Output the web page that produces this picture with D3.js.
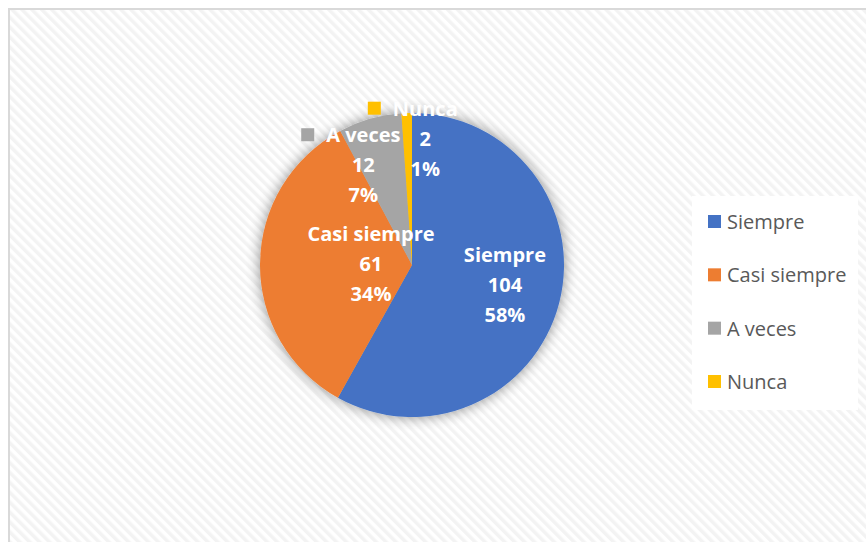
<!DOCTYPE html>
<html>
<head>
<meta charset="utf-8">
<script src="https://cdn.jsdelivr.net/npm/d3@7"></script>
<style>
  body { margin: 0; background: #fff; }
  svg { display: block; font-family: "Open Sans", Lato, sans-serif; }
</style>
</head>
<body>
<div id="chart"></div>
<script>
// data
var categories = ["Siempre", "Casi siempre", "A veces", "Nunca"];
var counts = [104, 61, 12, 2];
var percents = ["58%", "34%", "7%", "1%"];
var colors = ["#4472C4", "#ED7D31", "#A5A5A5", "#FFC000"];

var width = 866, height = 542;
var cx = 412, cy = 265, radius = 152;

// where excel put each data label (angle in degrees, distance from centre)
var labelPlace = {
    "Siempre": { angle: 102, dist: 95, key: false },
    "Casi siempre": { angle: 271, dist: 41, key: false },
    "A veces": { angle: 334, dist: 111, key: true },
    "Nunca": { angle: 6, dist: 127, key: true }
};

var svg = d3.select("#chart").append("svg")
    .attr("width", width)
    .attr("height", height);

var defs = svg.append("defs");

var stripes = defs.append("pattern")
    .attr("id", "stripes")
    .attr("patternUnits", "userSpaceOnUse")
    .attr("width", 7)
    .attr("height", 7)
    .attr("patternTransform", "rotate(-45)");
stripes.append("rect").attr("width", 7).attr("height", 7).attr("fill", "#ffffff");
stripes.append("rect").attr("width", 3.5).attr("height", 7).attr("fill", "#f3f3f3");

var shadow = defs.append("filter")
    .attr("id", "shadow")
    .attr("x", "-30%").attr("y", "-30%")
    .attr("width", "160%").attr("height", "160%");
shadow.append("feGaussianBlur").attr("in", "SourceAlpha").attr("stdDeviation", 7).attr("result", "blur");
shadow.append("feComponentTransfer").attr("in", "blur").attr("result", "soft")
    .append("feFuncA").attr("type", "linear").attr("slope", 0.45);
var merge = shadow.append("feMerge");
merge.append("feMergeNode").attr("in", "soft");
merge.append("feMergeNode").attr("in", "SourceGraphic");

// chart area frame
svg.append("rect")
    .attr("x", 9).attr("y", 9)
    .attr("width", width).attr("height", height)
    .attr("fill", "url(#stripes)")
    .attr("stroke", "#d9d9d9")
    .attr("stroke-width", 2);

var color = d3.scaleOrdinal().domain(categories).range(colors);

var pie = d3.pie().sort(null).value(function (d) { return d.count; });
var arc = d3.arc().innerRadius(0).outerRadius(radius);

var data = categories.map(function (c, i) {
    return { name: c, count: counts[i], pct: percents[i] };
});

var g = svg.append("g").attr("transform", "translate(" + cx + "," + cy + ")");

g.append("g").attr("filter", "url(#shadow)")
    .selectAll("path")
    .data(pie(data))
    .enter().append("path")
    .attr("d", arc)
    .attr("fill", function (d) { return color(d.data.name); });

// data labels
var lineH = 30;
var labels = g.selectAll("g.lbl")
    .data(pie(data))
    .enter().append("g")
    .attr("class", "lbl")
    .attr("transform", function (d) {
        var p = labelPlace[d.data.name];
        var pt = d3.pointRadial(p.angle * Math.PI / 180, p.dist);
        return "translate(" + pt[0] + "," + pt[1] + ")";
    });

labels.each(function (d) {
    var el = d3.select(this);
    var p = labelPlace[d.data.name];
    var lines = [d.data.name, d.data.count, d.data.pct];
    lines.forEach(function (t, i) {
        var txt = el.append("text")
            .attr("y", (i - 1) * lineH)
            .attr("dy", "0.35em")
            .attr("text-anchor", "middle")
            .attr("fill", "#ffffff")
            .attr("font-weight", "bold")
            .attr("font-size", 20)
            .text(t);
        if (i == 0 && p.key) {
            var w = txt.node().getComputedTextLength();
            el.append("rect")
                .attr("x", -w / 2 - 12 - 13)
                .attr("y", -lineH - 7)
                .attr("width", 13).attr("height", 13)
                .attr("fill", color(d.data.name));
        }
    });
});

// legend
var legend = svg.append("g").attr("transform", "translate(692,196)");
legend.append("rect")
    .attr("width", 166).attr("height", 214)
    .attr("fill", "#ffffff");

var legendScale = d3.scalePoint().domain(categories).range([26, 186]);

var item = legend.selectAll("g.item")
    .data(categories)
    .enter().append("g")
    .attr("class", "item")
    .attr("transform", function (d) { return "translate(16," + legendScale(d) + ")"; });

item.append("rect")
    .attr("x", 0).attr("y", -7)
    .attr("width", 13).attr("height", 13)
    .attr("fill", function (d) { return color(d); });

item.append("text")
    .attr("x", 19)
    .attr("dy", "0.35em")
    .attr("fill", "#595959")
    .attr("font-size", 20)
    .text(function (d) { return d; });
</script>
</body>
</html>
